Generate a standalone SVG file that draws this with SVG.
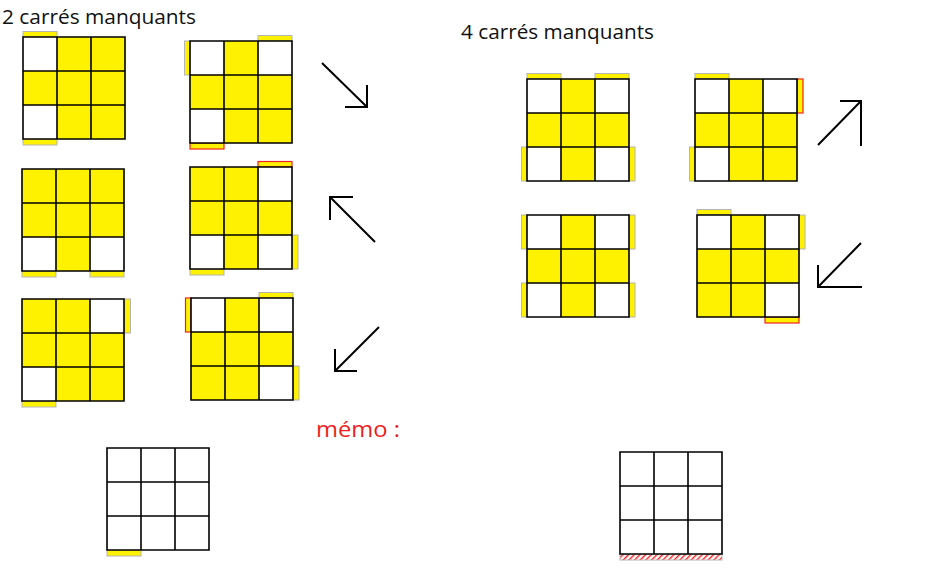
<svg xmlns="http://www.w3.org/2000/svg" width="932" height="571" viewBox="0 0 932 571">
<style>
.bg{fill:#fff200}
.w{fill:#ffffff}
.ln{fill:none;stroke:#000;stroke-width:1.6}
.tab{fill:#fff200;stroke:#b4b4b4;stroke-width:1}
.tabr{fill:#fff200;stroke:#ee2222;stroke-width:1.2}
.hat{fill:url(#hatch);stroke:#b4b4b4;stroke-width:1}
.arr{fill:none;stroke:#000;stroke-width:2}
.t{font-family:"Open Sans","Liberation Sans",sans-serif;font-size:20px;fill:#111}
.memo{font-family:"Open Sans","Liberation Sans",sans-serif;font-size:22px;fill:#ee1c1c}
</style>
<defs>
<path id="gl" class="ln" d="M0,0H102V102H0Z M34,0V102 M68,0V102 M0,34H102 M0,68H102"/>
<pattern id="hatch" patternUnits="userSpaceOnUse" width="4" height="4" patternTransform="rotate(45)">
<rect width="4" height="4" fill="#ffffff"/>
<rect x="0" y="0" width="1.4" height="4" fill="#ff2020"/>
</pattern>
</defs>
<rect width="932" height="571" fill="#fff"/>
<text class="t" x="2" y="24" textLength="194" lengthAdjust="spacingAndGlyphs">2 carrés manquants</text>
<text class="t" x="461" y="39" textLength="193" lengthAdjust="spacingAndGlyphs">4 carrés manquants</text>
<text class="memo" x="316" y="437" textLength="84" lengthAdjust="spacingAndGlyphs">mémo :</text>

<g id="g1">
<rect class="tab" x="23" y="31.5" width="34" height="5.5"/>
<rect class="tab" x="23" y="139" width="34" height="6"/>
<rect class="bg" x="23" y="37" width="102" height="102"/>
<rect class="w" x="23" y="37" width="34" height="34"/>
<rect class="w" x="23" y="105" width="34" height="34"/>
<use href="#gl" x="23" y="37"/>
</g>
<g id="g2">
<rect class="tab" x="184.5" y="41" width="5.5" height="34"/>
<rect class="tab" x="258" y="35.5" width="34" height="5.5"/>
<rect class="tabr" x="190" y="143" width="34" height="6"/>
<rect class="bg" x="190" y="41" width="102" height="102"/>
<rect class="w" x="190" y="41" width="34" height="34"/>
<rect class="w" x="258" y="41" width="34" height="34"/>
<rect class="w" x="190" y="109" width="34" height="34"/>
<use href="#gl" x="190" y="41"/>
</g>
<g id="g3">
<rect class="tab" x="22" y="271" width="34" height="6"/>
<rect class="tab" x="90" y="271" width="34" height="6"/>
<rect class="bg" x="22" y="169" width="102" height="102"/>
<rect class="w" x="22" y="237" width="34" height="34"/>
<rect class="w" x="90" y="237" width="34" height="34"/>
<use href="#gl" x="22" y="169"/>
</g>
<g id="g4">
<rect class="tabr" x="258" y="161.5" width="34" height="5.5"/>
<rect class="tab" x="292" y="235" width="6" height="34"/>
<rect class="tab" x="190" y="269" width="34" height="6"/>
<rect class="bg" x="190" y="167" width="102" height="102"/>
<rect class="w" x="258" y="167" width="34" height="34"/>
<rect class="w" x="190" y="235" width="34" height="34"/>
<rect class="w" x="258" y="235" width="34" height="34"/>
<use href="#gl" x="190" y="167"/>
</g>
<g id="g5">
<rect class="tab" x="124" y="299" width="6.5" height="34"/>
<rect class="tab" x="22" y="401" width="34" height="6"/>
<rect class="bg" x="22" y="299" width="102" height="102"/>
<rect class="w" x="90" y="299" width="34" height="34"/>
<rect class="w" x="22" y="367" width="34" height="34"/>
<use href="#gl" x="22" y="299"/>
</g>
<g id="g6">
<rect class="tabr" x="185.5" y="298" width="5.5" height="34"/>
<rect class="tab" x="259" y="292.5" width="34" height="5.5"/>
<rect class="tab" x="293" y="366" width="6" height="34"/>
<rect class="bg" x="191" y="298" width="102" height="102"/>
<rect class="w" x="191" y="298" width="34" height="34"/>
<rect class="w" x="259" y="298" width="34" height="34"/>
<rect class="w" x="259" y="366" width="34" height="34"/>
<use href="#gl" x="191" y="298"/>
</g>
<g id="g7">
<rect class="tab" x="527" y="73.5" width="34" height="5.5"/>
<rect class="tab" x="595" y="73.5" width="34" height="5.5"/>
<rect class="tab" x="521.5" y="147" width="5.5" height="34"/>
<rect class="tab" x="629" y="147" width="6" height="34"/>
<rect class="bg" x="527" y="79" width="102" height="102"/>
<rect class="w" x="527" y="79" width="34" height="34"/>
<rect class="w" x="595" y="79" width="34" height="34"/>
<rect class="w" x="527" y="147" width="34" height="34"/>
<rect class="w" x="595" y="147" width="34" height="34"/>
<use href="#gl" x="527" y="79"/>
</g>
<g id="g8">
<rect class="tab" x="695" y="73.5" width="34" height="5.5"/>
<rect class="tabr" x="797" y="79" width="6" height="34"/>
<rect class="tab" x="689.5" y="147" width="5.5" height="34"/>
<rect class="bg" x="695" y="79" width="102" height="102"/>
<rect class="w" x="695" y="79" width="34" height="34"/>
<rect class="w" x="763" y="79" width="34" height="34"/>
<rect class="w" x="695" y="147" width="34" height="34"/>
<use href="#gl" x="695" y="79"/>
</g>
<g id="g9">
<rect class="tab" x="521.5" y="215" width="5.5" height="34"/>
<rect class="tab" x="629" y="215" width="6" height="34"/>
<rect class="tab" x="521.5" y="283" width="5.5" height="34"/>
<rect class="tab" x="629" y="283" width="6" height="34"/>
<rect class="bg" x="527" y="215" width="102" height="102"/>
<rect class="w" x="527" y="215" width="34" height="34"/>
<rect class="w" x="595" y="215" width="34" height="34"/>
<rect class="w" x="527" y="283" width="34" height="34"/>
<rect class="w" x="595" y="283" width="34" height="34"/>
<use href="#gl" x="527" y="215"/>
</g>
<g id="g10">
<rect class="tab" x="697" y="209.5" width="34" height="5.5"/>
<rect class="tab" x="799" y="215" width="6" height="34"/>
<rect class="tabr" x="765" y="317" width="34" height="6"/>
<rect class="bg" x="697" y="215" width="102" height="102"/>
<rect class="w" x="697" y="215" width="34" height="34"/>
<rect class="w" x="765" y="215" width="34" height="34"/>
<rect class="w" x="765" y="283" width="34" height="34"/>
<use href="#gl" x="697" y="215"/>
</g>
<g id="g11">
<rect class="tab" x="107" y="550" width="34" height="6"/>
<rect class="w" x="107" y="448" width="102" height="102"/>
<use href="#gl" x="107" y="448"/>
</g>
<g id="g12">
<rect class="hat" x="620" y="554" width="102" height="6"/>
<rect class="w" x="620" y="452" width="102" height="102"/>
<use href="#gl" x="620" y="452"/>
</g>

<g id="connectors">
<path class="arr" d="M322,63L367,107 M367,85V107H345"/>
<path class="arr" d="M375,242L330,197 M330,220V197H353"/>
<path class="arr" d="M379,327L335,371 M335,349V371H357"/>
<path class="arr" d="M818,145L861,101 M840,101H861V146"/>
<path class="arr" d="M861,243L818,287 M818,265V287H862"/>
</g>
</svg>
